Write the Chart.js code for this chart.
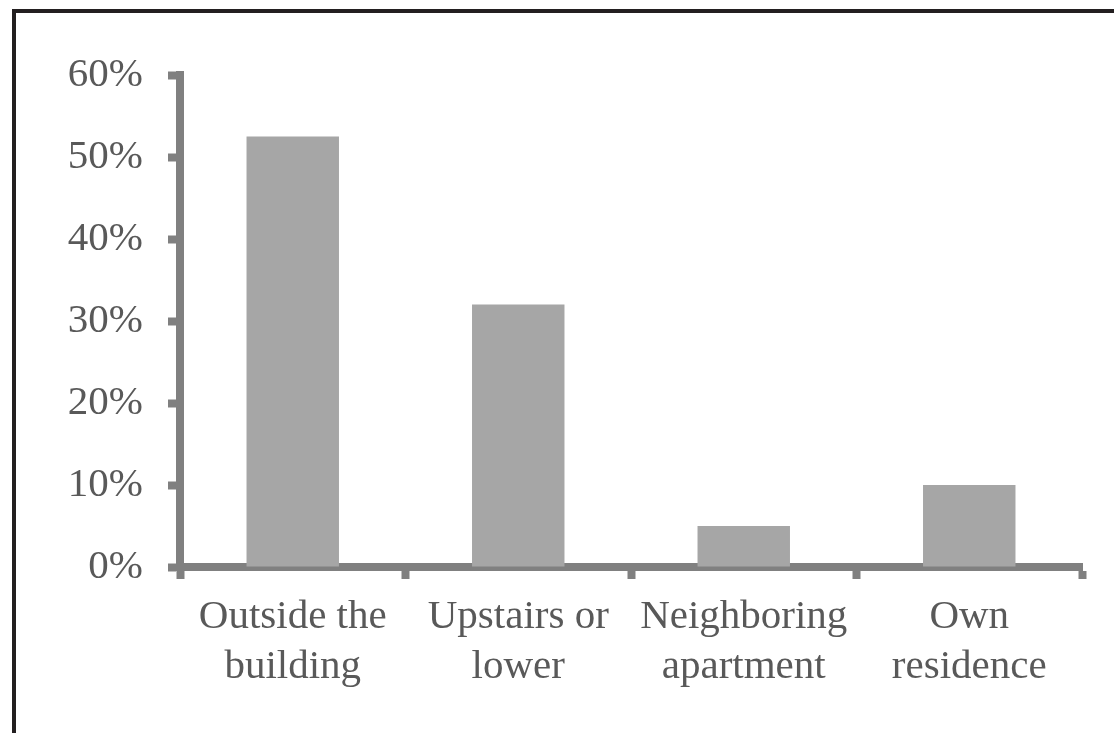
<!DOCTYPE html>
<html>
<head>
<meta charset="utf-8">
<script src="https://cdn.jsdelivr.net/npm/chart.js@4/dist/chart.umd.min.js"></script>
<style>
  html, body { margin: 0; padding: 0; background: #ffffff; }
  #wrap { position: relative; width: 1114px; height: 733px; overflow: hidden; }
  #frame { position: absolute; left: 12px; top: 9px; right: 0; bottom: 0;
           border-top: 4px solid #231f20; border-left: 4px solid #231f20; pointer-events: none; }
  #chartBox { position: absolute; left: 0; top: 0; width: 1114px; height: 733px; }
</style>
</head>
<body>
<div id="wrap">
  <div id="chartBox"><canvas id="c"></canvas></div>
  <div id="frame"></div>
</div>
<script>
const categories = [
  ['Outside the', 'building'],
  ['Upstairs or', 'lower'],
  ['Neighboring', 'apartment'],
  ['Own', 'residence']
];
const shares = [52.5, 32, 5, 10];
const yTickValues = [0, 10, 20, 30, 40, 50, 60];
const yTickLabels = ['0%', '10%', '20%', '30%', '40%', '50%', '60%'];

const axisColor = '#808080';
const textColor = '#595959';
const fontSpec = { family: '"Liberation Serif", "Times New Roman", serif', size: 41 };

new Chart(document.getElementById('c'), {
  type: 'bar',
  data: {
    labels: categories,
    datasets: [{
      data: shares,
      backgroundColor: '#a6a6a6',
      borderWidth: 0,
      categoryPercentage: 1,
      barPercentage: 0.41
    }]
  },
  options: {
    responsive: true,
    maintainAspectRatio: false,
    animation: false,
    layout: { padding: { left: 0, right: 32, top: 75, bottom: 0 } },
    plugins: { legend: { display: false }, tooltip: { enabled: false } },
    scales: {
      x: {
        grid: { display: true, drawOnChartArea: false, drawTicks: true, tickLength: 12, tickWidth: 8, tickColor: axisColor, offset: true },
        border: { display: true, color: axisColor, width: 8 },
        ticks: { color: textColor, font: fontSpec, padding: 14, maxRotation: 0, autoSkip: false },
        afterFit(scale) { scale.height = 166; }
      },
      y: {
        min: 0, max: 60,
        afterBuildTicks(scale) { scale.ticks = yTickValues.map(v => ({ value: v })); },
        grid: { display: true, drawOnChartArea: false, drawTicks: true, tickLength: 12, tickWidth: 8, tickColor: axisColor },
        border: { display: true, color: axisColor, width: 8 },
        ticks: {
          color: textColor, font: fontSpec, padding: 25,
          callback(value) { const i = yTickValues.indexOf(value); return i >= 0 ? yTickLabels[i] : ''; }
        },
        afterFit(scale) { scale.width = 180; }
      }
    }
  }
});
</script>
</body>
</html>
